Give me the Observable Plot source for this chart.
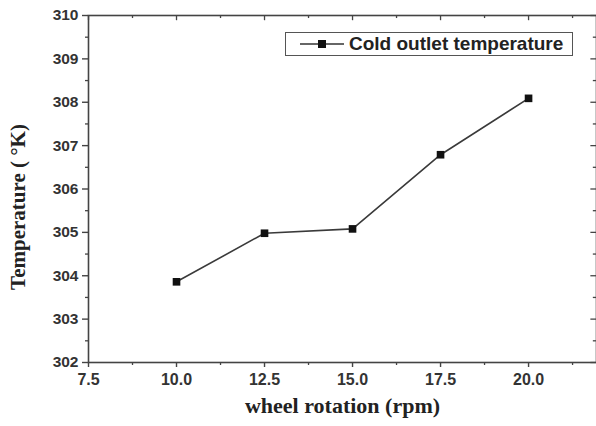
<!DOCTYPE html>
<html>
<head>
<meta charset="utf-8">
<script src="https://cdn.jsdelivr.net/npm/d3@7"></script>
<script src="https://cdn.jsdelivr.net/npm/@observablehq/plot@0.6"></script>
<style>
  html, body { margin: 0; padding: 0; background: #fff; overflow: hidden; }
  #wrap { position: relative; width: 596px; height: 426px; }
  #legend {
    position: absolute; left: 285px; top: 32px; width: 288px; height: 24px;
    border: 1.3px solid #555; background: #fff; box-sizing: border-box;
    font-family: "Liberation Sans", Arial, sans-serif; font-weight: bold; font-size: 19px; color: #222;
    display: flex; align-items: center; white-space: nowrap;
  }
  #legend svg { margin-left: 13px; margin-right: 4px; }
</style>
</head>
<body>
<div id="wrap">
  <div id="chart"></div>
  <div id="legend">
    <svg width="46" height="12"><line x1="1" y1="6" x2="45" y2="6" stroke="#333" stroke-width="1.5"/><rect x="19" y="2" width="8" height="8" fill="#111"/></svg>
    <span>Cold outlet temperature</span>
  </div>
</div>
<script>
const rpm = [10.0, 12.5, 15.0, 17.5, 20.0];
const coldOutletTemp = [303.86, 304.98, 305.08, 306.79, 308.09];
const xTicks = [7.5, 10.0, 12.5, 15.0, 17.5, 20.0];
const xMinorTicks = [8.75, 11.25, 13.75, 16.25, 18.75, 21.25];
const yTicks = [302, 303, 304, 305, 306, 307, 308, 309, 310];
const yMinorTicks = [302.5, 303.5, 304.5, 305.5, 306.5, 307.5, 308.5, 309.5];
const xDomain = [7.5, 21.93];
const yDomain = [302, 310];

const data = rpm.map((r, i) => ({rpm: r, temp: coldOutletTemp[i]}));

const tickFont = {fontFamily: "Liberation Sans, Arial, sans-serif", fontWeight: "bold"};
const blank = () => "";

const chart = Plot.plot({
  width: 596,
  height: 426,
  marginLeft: 88,
  marginRight: 0,
  marginTop: 15,
  marginBottom: 64,
  style: {background: "transparent", color: "#333"},
  x: {domain: xDomain, label: null},
  y: {domain: yDomain, label: null},
  marks: [
    Plot.frame({stroke: "#444", strokeWidth: 1.6}),
    // bottom axis
    Plot.axisX({ticks: xTicks, tickFormat: d3.format(".1f"), tickSize: 5, tickPadding: 6, stroke: "#444", strokeWidth: 1.4, fill: "#333", ...tickFont, fontSize: 16}),
    Plot.axisX({ticks: xMinorTicks, tickFormat: blank, tickSize: 3, stroke: "#444", strokeWidth: 1.3}),
    // left axis
    Plot.axisY({ticks: yTicks, tickFormat: d3.format("d"), tickSize: 6, tickPadding: 4, stroke: "#444", strokeWidth: 1.4, fill: "#333", ...tickFont, fontSize: 15.5}),
    Plot.axisY({ticks: yMinorTicks, tickFormat: blank, tickSize: 3, stroke: "#444", strokeWidth: 1.3}),
    // top axis (inward ticks)
    Plot.ruleX(xTicks, {y1: 310, y2: 310 - 0.12, stroke: "#444", strokeWidth: 1.3}),
    Plot.ruleX(xMinorTicks, {y1: 310, y2: 310 - 0.07, stroke: "#444", strokeWidth: 1.3}),
    // right axis (inward ticks)
    Plot.ruleY(yTicks, {x1: xDomain[1], x2: xDomain[1] - 0.16, stroke: "#444", strokeWidth: 1.3}),
    Plot.ruleY(yMinorTicks, {x1: xDomain[1], x2: xDomain[1] - 0.09, stroke: "#444", strokeWidth: 1.3}),
    // data
    Plot.line(data, {x: "rpm", y: "temp", stroke: "#3a3a3a", strokeWidth: 1.6}),
    Plot.dot(data, {x: "rpm", y: "temp", symbol: "square", r: 4.3, fill: "#111", stroke: "none"}),
    // axis titles
    Plot.text(["wheel rotation (rpm)"], {frameAnchor: "bottom", dy: 50, fontFamily: "Liberation Serif, Times New Roman, serif", fontWeight: "bold", fontSize: 22, fill: "#222"}),
    Plot.text(["Temperature ( °K)"], {frameAnchor: "left", textAnchor: "middle", dx: -70, dy: 18, rotate: -90, fontFamily: "Liberation Serif, Times New Roman, serif", fontWeight: "bold", fontSize: 21, fill: "#222"})
  ]
});
document.getElementById("chart").appendChild(chart);
</script>
</body>
</html>
